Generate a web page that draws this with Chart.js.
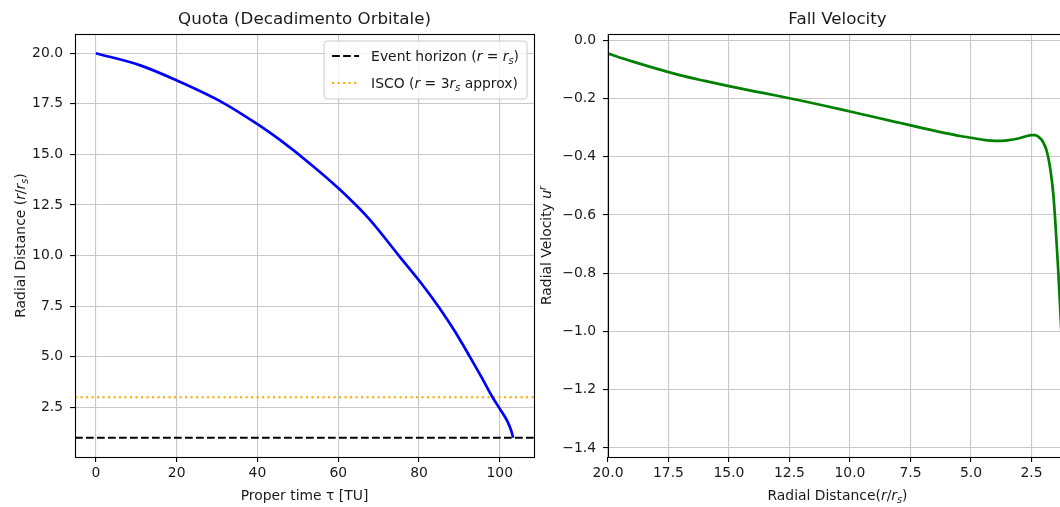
<!DOCTYPE html>
<html>
<head>
<meta charset="utf-8">
<script src="https://cdn.jsdelivr.net/npm/chart.js@4/dist/chart.umd.min.js"></script>
<style>
  html, body { margin: 0; padding: 0; background: #fff; width: 1060px; height: 507px; overflow: hidden; }
  canvas { position: absolute; top: 0; }
  #altitude { left: 0; }
  #velocity { left: 540px; }
</style>
</head>
<body>
<canvas id="altitude" width="540" height="507"></canvas>
<canvas id="velocity" width="540" height="507"></canvas>
<script>
// ---- Orbital decay: radius vs proper time ----
const properTime = [0, 11, 20.3, 31.5, 40.1, 45.4, 52.8, 60.2, 67.8, 75.2, 80.6, 85.1, 88.9, 92.6, 95.4, 98.2, 100.2, 101.6, 102.4, 102.9, 103.2, 103.3];
const radius     = [20.0, 19.4, 18.63, 17.55, 16.48, 15.74, 14.58, 13.3, 11.78, 9.95, 8.62, 7.4, 6.25, 5.0, 4.02, 3.0, 2.37, 1.92, 1.58, 1.3, 1.08, 1.0];
const horizonRadius = 1;
const iscoRadius = 3;
const timeTicks   = [0, 20, 40, 60, 80, 100];
const radiusTicks = [2.5, 5.0, 7.5, 10.0, 12.5, 15.0, 17.5, 20.0];
const timeLimits   = [-5.17, 108.47];
const radiusLimits = [0.05, 20.95];

// ---- Fall velocity vs radial distance ----
const velocityRadius = [20, 19, 18, 17, 16, 15, 14, 13, 12, 11, 10, 9, 8, 7, 6, 5.45, 5, 4.5, 3.94, 3.5, 3.0, 2.75, 2.5, 2.35, 2.22, 2.1, 2.01, 1.9, 1.8, 1.7, 1.6, 1.5, 1.46, 1.4, 1.35, 1.25, 1.15, 1.03];
const fallVelocity   = [-0.046, -0.073, -0.098, -0.121, -0.140, -0.158, -0.175, -0.191, -0.208, -0.226, -0.245, -0.264, -0.283, -0.302, -0.320, -0.329, -0.335, -0.342, -0.346, -0.344, -0.337, -0.331, -0.326, -0.326, -0.331, -0.340, -0.352, -0.372, -0.405, -0.455, -0.525, -0.64, -0.697, -0.78, -0.858, -1.02, -1.2, -1.37];
const distanceTicks = [20.0, 17.5, 15.0, 12.5, 10.0, 7.5, 5.0, 2.5];
const velocityTicks = [0.0, -0.2, -0.4, -0.6, -0.8, -1.0, -1.2, -1.4];
const distanceLimits = [1.03, 20];
const velocityLimits = [-1.431, 0.021];

// ---- Text pieces (plain / italic / italic subscript / italic superscript) ----
const altitudeTitle = [['Quota (Decadimento Orbitale)', '']];
const altitudeXLabel = [['Proper time τ [TU]', '']];
const altitudeYLabel = [['Radial Distance (', ''], ['r', 'i'], ['/', ''], ['r', 'i'], ['s', 'isub'], [')', '']];
const horizonLabel = [['Event horizon (', ''], ['r', 'i'], [' = ', ''], ['r', 'i'], ['s', 'isub'], [')', '']];
const iscoLabel = [['ISCO (', ''], ['r', 'i'], [' = 3', ''], ['r', 'i'], ['s', 'isub'], [' approx)', '']];
const velocityTitle = [['Fall Velocity', '']];
const velocityXLabel = [['Radial Distance(', ''], ['r', 'i'], ['/', ''], ['r', 'i'], ['s', 'isub'], [')', '']];
const velocityYLabel = [['Radial Velocity ', ''], ['u', 'i'], ['r', 'isup']];

const FONT = '"DejaVu Sans", "Liberation Sans", sans-serif';
const TEXT = '#1a1a1a';
const GRID = '#c8c8c8';

function fontOf(st, size) {
  const small = st.endsWith('sub') || st.endsWith('sup');
  return (st.startsWith('i') ? 'italic ' : '') + (small ? size * 0.7 : size).toFixed(2) + 'px ' + FONT;
}
function richWidth(ctx, segs, size) {
  let w = 0;
  for (const [t, st] of segs) { ctx.font = fontOf(st, size); w += ctx.measureText(t).width; }
  return w;
}
// draws mixed-style text; x is the left edge, y the baseline
function drawRich(ctx, segs, x, y, size) {
  ctx.textBaseline = 'alphabetic';
  ctx.textAlign = 'left';
  for (const [t, st] of segs) {
    ctx.font = fontOf(st, size);
    let dy = 0;
    if (st.endsWith('sub')) dy = size * 0.22;
    if (st.endsWith('sup')) dy = -size * 0.38;
    ctx.fillText(t, x, y + dy);
    x += ctx.measureText(t).width;
  }
}
function drawRichCentered(ctx, segs, cx, cy, size, rotate) {
  ctx.save();
  ctx.translate(cx, cy);
  if (rotate) ctx.rotate(-Math.PI / 2);
  const w = richWidth(ctx, segs, size);
  drawRich(ctx, segs, -w / 2, size * 0.36, size);
  ctx.restore();
}
function roundRect(ctx, x, y, w, h, r) {
  ctx.beginPath();
  ctx.moveTo(x + r, y);
  ctx.lineTo(x + w - r, y); ctx.arcTo(x + w, y, x + w, y + r, r);
  ctx.lineTo(x + w, y + h - r); ctx.arcTo(x + w, y + h, x + w - r, y + h, r);
  ctx.lineTo(x + r, y + h); ctx.arcTo(x, y + h, x, y + h - r, r);
  ctx.lineTo(x, y + r); ctx.arcTo(x, y, x + r, y, r);
  ctx.closePath();
}

// frame, titles, axis labels and the in-axes legend
const decorPlugin = {
  id: 'decor',
  afterDatasetsDraw(chart, args, opts) {
    const ctx = chart.ctx, a = chart.chartArea;
    ctx.save();
    ctx.strokeStyle = '#000';
    ctx.lineWidth = 1.1;
    ctx.strokeRect(Math.round(a.left) + 0.5, Math.round(a.top) + 0.5, Math.round(a.right - a.left), Math.round(a.bottom - a.top));
    ctx.fillStyle = TEXT;
    const cx = (a.left + a.right) / 2;
    drawRichCentered(ctx, opts.title, cx, 18, 16.7, false);
    drawRichCentered(ctx, opts.xLabel, cx, 495, 13.9, false);
    drawRichCentered(ctx, opts.yLabel, opts.yLabelX, (a.top + a.bottom) / 2, 13.9, true);

    const items = chart.data.datasets.filter(d => d.legendText);
    if (items.length) {
      const size = 13.9, rowH = 27;
      let tw = 0;
      items.forEach(d => { tw = Math.max(tw, richWidth(ctx, d.legendText, size)); });
      const boxW = 8 + 27 + 12 + tw + 8;
      const boxH = items.length * rowH + 4;
      const bx = a.right - 7 - boxW, by = a.top + 7;
      roundRect(ctx, bx, by, boxW, boxH, 3);
      ctx.fillStyle = 'rgba(255,255,255,0.8)';
      ctx.fill();
      ctx.strokeStyle = '#cccccc';
      ctx.lineWidth = 1;
      ctx.stroke();
      items.forEach((d, i) => {
        const y = by + 15 + i * rowH;
        ctx.save();
        ctx.strokeStyle = d.borderColor;
        ctx.lineWidth = d.borderWidth;
        ctx.setLineDash(d.borderDash || []);
        ctx.beginPath();
        ctx.moveTo(bx + 8, y);
        ctx.lineTo(bx + 35, y);
        ctx.stroke();
        ctx.restore();
        ctx.fillStyle = TEXT;
        drawRich(ctx, d.legendText, bx + 47, y + size * 0.36, size);
      });
    }
    ctx.restore();
  }
};

function axisOptions(limits, ticks, fmt, reverse, isY, axisSize) {
  return {
    type: 'linear',
    min: limits[0],
    max: limits[1],
    reverse: !!reverse,
    border: { display: false },
    grid: { color: GRID, lineWidth: 1.1, drawTicks: true, tickLength: 5, tickColor: '#000', tickWidth: 1.1 },
    ticks: {
      color: TEXT,
      font: { family: FONT, size: 13.9 },
      padding: isY ? 7 : 3,
      maxRotation: 0,
      autoSkip: false,
      callback: v => fmt(v)
    },
    afterBuildTicks: s => { s.ticks = ticks.map(v => ({ value: v })); },
    afterFit: s => {
      if (isY) { s.width = axisSize; s.paddingTop = 0; s.paddingBottom = 0; }
      else { s.height = axisSize; s.paddingLeft = 0; s.paddingRight = 0; }
    }
  };
}
const fmt1 = v => (v < 0 ? '\u2212' : '') + Math.abs(v).toFixed(1);
const fmt0 = v => String(Math.round(v));

Chart.defaults.font.family = FONT;

new Chart(document.getElementById('altitude'), {
  type: 'line',
  data: {
    datasets: [
      {
        label: 'Orbit',
        data: properTime.map((t, i) => ({ x: t, y: radius[i] })),
        borderColor: '#0000ff', borderWidth: 2.7, pointRadius: 0, cubicInterpolationMode: 'monotone', fill: false
      },
      {
        label: 'Event horizon',
        legendText: horizonLabel,
        data: timeLimits.map(t => ({ x: t, y: horizonRadius })),
        borderColor: '#000000', borderWidth: 2.1, borderDash: [7.7, 3.3], pointRadius: 0, fill: false
      },
      {
        label: 'ISCO',
        legendText: iscoLabel,
        data: timeLimits.map(t => ({ x: t, y: iscoRadius })),
        borderColor: '#ffa500', borderWidth: 2.1, borderDash: [2.1, 3.4], pointRadius: 0, fill: false
      }
    ]
  },
  options: {
    responsive: false,
    animation: false,
    devicePixelRatio: 1,
    layout: { padding: { top: 34, right: 6, left: 0, bottom: 0 } },
    scales: {
      x: axisOptions(timeLimits, timeTicks, fmt0, false, false, 50),
      y: axisOptions(radiusLimits, radiusTicks, fmt1, false, true, 75)
    },
    plugins: {
      legend: { display: false },
      tooltip: { enabled: false },
      decor: { title: altitudeTitle, xLabel: altitudeXLabel, yLabel: altitudeYLabel, yLabelX: 20 }
    }
  },
  plugins: [decorPlugin]
});

new Chart(document.getElementById('velocity'), {
  type: 'line',
  data: {
    datasets: [
      {
        label: 'Radial velocity',
        data: velocityRadius.map((r, i) => ({ x: r, y: fallVelocity[i] })),
        borderColor: '#008000', borderWidth: 2.7, pointRadius: 0, cubicInterpolationMode: 'monotone', fill: false
      }
    ]
  },
  options: {
    responsive: false,
    animation: false,
    devicePixelRatio: 1,
    layout: { padding: { top: 34, right: 13, left: 0, bottom: 0 } },
    scales: {
      x: axisOptions(distanceLimits, distanceTicks, fmt1, true, false, 50),
      y: axisOptions(velocityLimits, velocityTicks, fmt1, false, true, 68)
    },
    plugins: {
      legend: { display: false },
      tooltip: { enabled: false },
      decor: { title: velocityTitle, xLabel: velocityXLabel, yLabel: velocityYLabel, yLabelX: 6 }
    }
  },
  plugins: [decorPlugin]
});
</script>
</body>
</html>
